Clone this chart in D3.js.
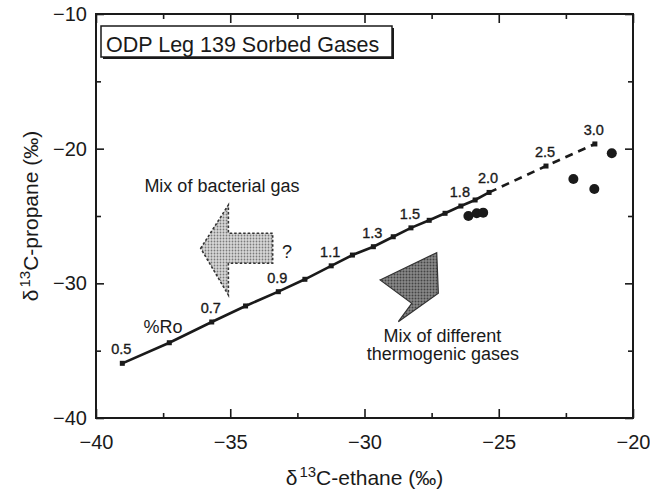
<!DOCTYPE html>
<html><head><meta charset="utf-8">
<script src="https://cdn.jsdelivr.net/npm/d3@7"></script>
<style>
html,body{margin:0;padding:0;background:#fff;}
svg text{font-family:"Liberation Sans",Arial,Helvetica,sans-serif;fill:#1a1a1a;}
</style></head>
<body><svg id="c" width="650" height="490"></svg>
<script>
// ---- data ----
const roValues   = [0.5,0.6,0.7,0.8,0.9,1.0,1.1,1.2,1.3,1.4,1.5,1.6,1.7,1.8,1.9,2.0,2.5,3.0];
const roEthane   = [-39.02,-37.27,-35.69,-34.43,-33.21,-32.22,-31.24,-30.45,-29.67,-28.93,-28.27,-27.59,-27.00,-26.41,-25.88,-25.36,-23.24,-21.42];
const roPropane  = [-35.94,-34.41,-32.87,-31.68,-30.62,-29.70,-28.70,-27.90,-27.28,-26.54,-25.88,-25.32,-24.80,-24.26,-23.81,-23.25,-21.29,-19.65];
const roLabelled = ["0.5","0.7","0.9","1.1","1.3","1.5","1.8","2.0","2.5","3.0"];
const sampleEthane  = [-26.13,-25.82,-25.58,-22.22,-21.44,-20.79];
const samplePropane = [-25.00,-24.80,-24.75,-22.25,-23.00,-20.34];
const xTicks = [-40,-35,-30,-25,-20];
const xMinor = [-37.5,-32.5,-27.5,-22.5];
const yTicks = [-10,-20,-30,-40];
const yMinor = [-15,-25,-35];
const bactArrow = [[-36.10,-27.40],[-35.07,-24.18],[-35.07,-26.28],[-33.42,-26.28],[-33.42,-28.51],[-35.07,-28.51],[-35.07,-30.87]];
const thermoArrow = [[-29.42,-29.75],[-27.31,-27.72],[-27.25,-30.74],[-28.74,-32.85],[-28.24,-31.48]];
const title = "ODP Leg 139 Sorbed Gases";

// ---- layout ----
const W=650,H=490, m={l:96,t:14,r:17,b:72};
const svg=d3.select("#c");
const x=d3.scaleLinear().domain([-40,-20]).range([m.l,W-m.r]);
const y=d3.scaleLinear().domain([-40,-10]).range([H-m.b,m.t]);
const ink="#1a1a1a";

// patterns
const defs=svg.append("defs");
const p1=defs.append("pattern").attr("id","dotsL").attr("width",3).attr("height",3).attr("patternUnits","userSpaceOnUse");
p1.append("rect").attr("width",3).attr("height",3).attr("fill","#d8d8d8");
p1.append("circle").attr("cx",1.5).attr("cy",1.5).attr("r",0.9).attr("fill","#7a7a7a");
const p2=defs.append("pattern").attr("id","dotsD").attr("width",3).attr("height",3).attr("patternUnits","userSpaceOnUse");
p2.append("rect").attr("width",3).attr("height",3).attr("fill","#8a8a8a");
p2.append("circle").attr("cx",1.5).attr("cy",1.5).attr("r",1).attr("fill","#444");

// axes (ticks inward, mirrored)
function axisGroup(axis, tr){ return svg.append("g").attr("transform",tr).call(axis); }
const bx=axisGroup(d3.axisBottom(x).tickValues(xTicks).tickSize(-9).tickPadding(17).tickFormat(d3.format("d")),`translate(0,${H-m.b})`);
axisGroup(d3.axisBottom(x).tickValues(xMinor).tickSize(-5).tickFormat(""),`translate(0,${H-m.b})`);
axisGroup(d3.axisTop(x).tickValues(xTicks).tickSize(-9).tickFormat(""),`translate(0,${m.t})`);
axisGroup(d3.axisTop(x).tickValues(xMinor).tickSize(-5).tickFormat(""),`translate(0,${m.t})`);
axisGroup(d3.axisLeft(y).tickValues(yTicks).tickSize(-8).tickPadding(9).tickFormat(d3.format("d")),`translate(${m.l},0)`);
axisGroup(d3.axisLeft(y).tickValues(yMinor).tickSize(-5).tickFormat(""),`translate(${m.l},0)`);
axisGroup(d3.axisRight(y).tickValues(yTicks).tickSize(-8).tickFormat(""),`translate(${W-m.r},0)`);
axisGroup(d3.axisRight(y).tickValues(yMinor).tickSize(-5).tickFormat(""),`translate(${W-m.r},0)`);
svg.selectAll(".domain").remove();
svg.selectAll(".tick line").attr("stroke",ink).attr("stroke-width",1.6);
svg.selectAll(".tick text").attr("font-size",20).attr("fill",ink);
bx.selectAll(".tick text").attr("dy","0.71em");
// frame
svg.append("rect").attr("x",m.l).attr("y",m.t).attr("width",W-m.l-m.r).attr("height",H-m.t-m.b)
  .attr("fill","none").attr("stroke",ink).attr("stroke-width",2);

// axis titles
const xt=svg.append("text").attr("x",(m.l+W-m.r)/2).attr("y",485).attr("text-anchor","middle").attr("font-size",21);
xt.append("tspan").text("δ");
xt.append("tspan").attr("dy",-8).attr("dx",2).attr("font-size",15).text("13");
xt.append("tspan").attr("dy",8).text("C-ethane (‰)");
const yt=svg.append("text").attr("transform",`translate(38,${(m.t+H-m.b)/2}) rotate(-90)`).attr("text-anchor","middle").attr("font-size",21);
yt.append("tspan").text("δ");
yt.append("tspan").attr("dy",-8).attr("dx",2).attr("font-size",15).text("13");
yt.append("tspan").attr("dy",8).text("C-propane (‰)");

// title box with shadow
svg.append("rect").attr("x",103).attr("y",28).attr("width",291).attr("height",31).attr("fill",ink);
svg.append("rect").attr("x",101).attr("y",26).attr("width",291).attr("height",31).attr("fill","#fff").attr("stroke",ink).attr("stroke-width",1.5);
svg.append("text").attr("x",106).attr("y",52).attr("font-size",21.5).text(title);

// arrows
const poly=d3.line().x(d=>x(d[0])).y(d=>y(d[1])).curve(d3.curveLinearClosed);
svg.append("path").attr("d",poly(bactArrow)).attr("fill","url(#dotsL)").attr("stroke","#333").attr("stroke-width",1.6).attr("stroke-dasharray","2.5,2");
svg.append("path").attr("d",poly(thermoArrow)).attr("fill","url(#dotsD)").attr("stroke","#333").attr("stroke-width",1.2);

// annotations
svg.append("text").attr("x",x(-35.31)).attr("y",y(-23.22)).attr("text-anchor","middle").attr("font-size",18).text("Mix of bacterial gas");
svg.append("text").attr("x",x(-32.89)).attr("y",y(-28.12)).attr("text-anchor","middle").attr("font-size",18).text("?");
svg.append("text").attr("x",x(-27.10)).attr("y",y(-34.36)).attr("text-anchor","middle").attr("font-size",18).text("Mix of different");
svg.append("text").attr("x",x(-27.08)).attr("y",y(-35.69)).attr("text-anchor","middle").attr("font-size",18).text("thermogenic gases");
svg.append("text").attr("x",x(-37.50)).attr("y",y(-33.69)).attr("text-anchor","middle").attr("font-size",18).text("%Ro");

// maturity line
const pts=roValues.map((r,i)=>({r,e:roEthane[i],p:roPropane[i]}));
const ln=d3.line().x(d=>x(d.e)).y(d=>y(d.p));
const i20=roValues.indexOf(2.0);
svg.append("path").attr("d",ln(pts.slice(0,i20+1))).attr("fill","none").attr("stroke",ink).attr("stroke-width",2.6);
svg.append("path").attr("d",ln(pts.slice(i20))).attr("fill","none").attr("stroke",ink).attr("stroke-width",2.6).attr("stroke-dasharray","8,6");
svg.selectAll(".ro").data(pts).join("rect").attr("class","ro")
  .attr("x",d=>x(d.e)-2.5).attr("y",d=>y(d.p)-2.5).attr("width",5).attr("height",5).attr("fill",ink);
svg.selectAll(".rol").data(pts.filter(d=>roLabelled.includes(d.r.toFixed(1)))).join("text").attr("class","rol")
  .attr("x",d=>x(d.e)-1).attr("y",d=>y(d.p)-9).attr("text-anchor","middle").attr("font-size",14.5)
  .attr("stroke",ink).attr("stroke-width",0.35).text(d=>d.r.toFixed(1));

// samples
svg.selectAll(".s").data(sampleEthane.map((e,i)=>[e,samplePropane[i]])).join("circle").attr("class","s")
  .attr("cx",d=>x(d[0])).attr("cy",d=>y(d[1])).attr("r",5).attr("fill",ink);
</script></body></html>
